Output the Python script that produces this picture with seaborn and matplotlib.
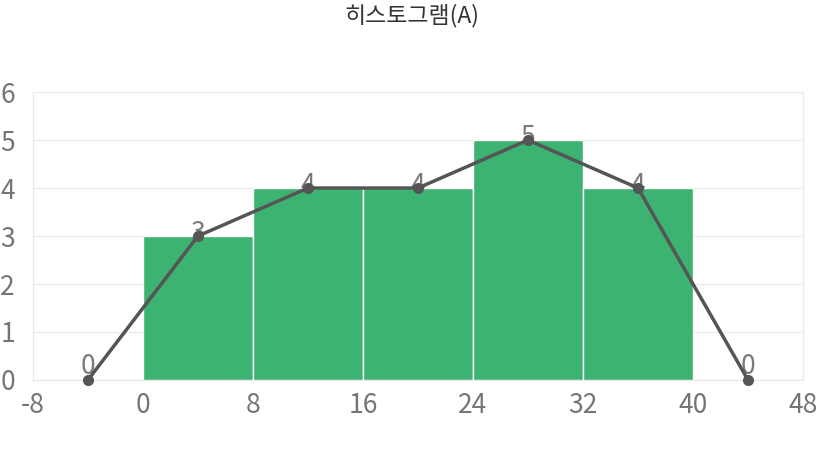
import numpy as np
import pandas as pd
import matplotlib
matplotlib.use("Agg")
import matplotlib.pyplot as plt
import seaborn as sns

# histogram data
bin_edges = [0, 8, 16, 24, 32, 40]
bin_counts = [3, 4, 4, 5, 4]
# frequency polygon (class midpoints incl. empty end classes)
poly_x = [-4, 4, 12, 20, 28, 36, 44]
poly_y = [0, 3, 4, 4, 5, 4, 0]
x_ticks = [-8, 0, 8, 16, 24, 32, 40, 48]
title = "히스토그램(A)"

sns.set_style("white")
plt.rcParams["font.family"] = ["Noto Sans CJK KR", "DejaVu Sans"]
plt.rcParams["axes.unicode_minus"] = False

fig = plt.figure(figsize=(8.24, 4.49), dpi=100)
ax = fig.add_axes([0.040, 0.1537, 0.9345, 0.6413])

centers = [(a + b) / 2 for a, b in zip(bin_edges[:-1], bin_edges[1:])]
hist_df = pd.DataFrame({"x": centers, "n": bin_counts})
sns.histplot(data=hist_df, x="x", weights="n", bins=bin_edges, ax=ax,
             color="#3CB371", alpha=1, edgecolor="white", linewidth=1, zorder=2)

poly_df = pd.DataFrame({"x": poly_x, "y": poly_y})
sns.lineplot(data=poly_df, x="x", y="y", ax=ax, color="#555555", linewidth=2.5,
             marker="o", markersize=8, markeredgewidth=0, zorder=4, clip_on=False)

# value labels: centred on the point, zero labels lifted off the axis
for xv, yv in zip(poly_x, poly_y):
    if yv == 0:
        ax.annotate(str(yv), (xv, yv), xytext=(0, 0), textcoords="offset points",
                    ha="center", va="bottom", fontsize=19, color="#7a7a7a", zorder=3)
    else:
        ax.annotate(str(yv), (xv, yv), xytext=(0, 2), textcoords="offset points",
                    ha="center", va="center", fontsize=19, color="#7a7a7a", zorder=3)

ax.set_xlim(-8, 48)
ax.set_ylim(0, 6)
ax.set_xticks(x_ticks)
ax.set_yticks(range(0, 7))
ax.set_xlabel("")
ax.set_ylabel("")
ax.yaxis.grid(True, color="#ebebeb", linewidth=1)
ax.set_axisbelow(True)
for side in ["left", "right"]:
    ax.spines[side].set_color("#ebebeb")
    ax.spines[side].set_linewidth(1)
ax.spines["top"].set_visible(False)
ax.spines["bottom"].set_color("#e6e6e6")
ax.tick_params(axis="both", length=0, labelsize=19, labelcolor="#757575")
ax.tick_params(axis="y", pad=13)
ax.tick_params(axis="x", pad=9)

fig.text(0.5, 0.966, title, ha="center", va="center", fontsize=16.5, color="#333333")

fig.savefig("out.png", dpi=100)
